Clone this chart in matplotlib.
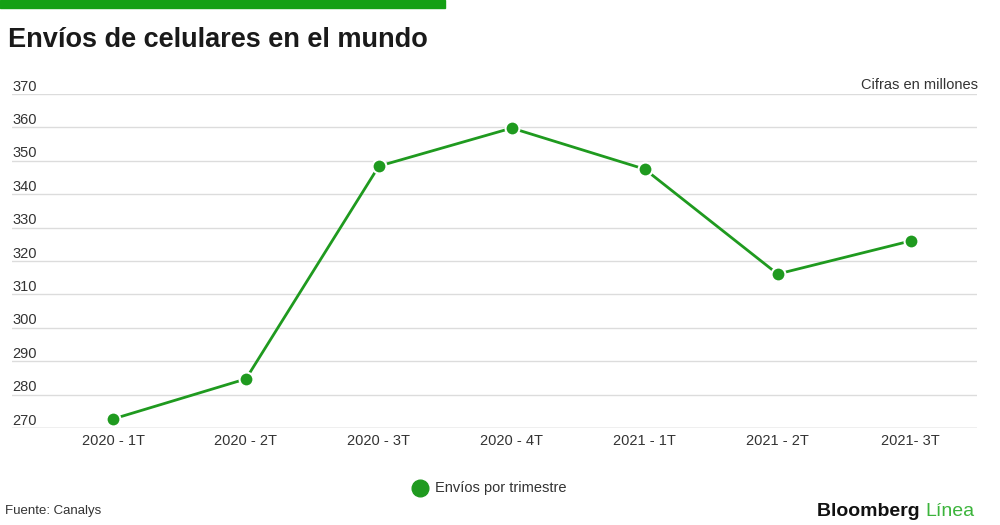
import matplotlib
matplotlib.use('Agg')
import matplotlib.pyplot as plt
from matplotlib.transforms import blended_transform_factory

trimestres = ['2020 - 1T', '2020 - 2T', '2020 - 3T', '2020 - 4T', '2021 - 1T', '2021 - 2T', '2021- 3T']
envios = [272.7, 284.7, 348.4, 359.8, 347.5, 316.1, 326.0]
yticks = [270, 280, 290, 300, 310, 320, 330, 340, 350, 360, 370]

verde = '#1f9a1f'
gris = '#333333'
plt.rcParams['font.family'] = ['Liberation Sans', 'DejaVu Sans']

fig = plt.figure(figsize=(10, 5.25), dpi=100)
ax = fig.add_axes([0.012, 1 - 428 / 525, 0.965, (428 - 94) / 525])

x = list(range(len(trimestres)))
ax.plot(x, envios, color=verde, lw=2, zorder=3)
ax.plot(x, envios, 'o', color=verde, ms=10, mec='white', mew=1.5, zorder=4)

ax.set_xlim(-0.76, 6.5)
ax.set_ylim(270, 370)
for v in yticks:
    ax.axhline(v, color='#dcdcdc', lw=1, zorder=1)
ax.axhline(270, color='#cfcfcf', lw=1, zorder=1)

tr = blended_transform_factory(ax.transAxes, ax.transData)
for v in yticks:
    ax.text(0, v + 0.1, str(v), transform=tr, ha='left', va='bottom', fontsize=10.5, color=gris)

ax.set_xticks(x)
ax.set_xticklabels(trimestres, fontsize=10.5, color=gris)
ax.tick_params(axis='x', length=0, pad=4)
ax.set_yticks([])
for s in ax.spines.values():
    s.set_visible(False)

# barra verde superior
fig.patches.append(plt.Rectangle((0, 1 - 8 / 525), 0.445, 8 / 525, transform=fig.transFigure,
                                 color='#14a014', zorder=0))

fig.text(0.008, 1 - 40 / 525, 'Envíos de celulares en el mundo', fontsize=19.5, fontweight='bold',
         color='#1a1a1a', va='center', ha='left')
fig.text(0.978, 1 - 85 / 525, 'Cifras en millones', fontsize=10.5, color=gris, ha='right', va='center')

# leyenda
fig.lines.append(plt.Line2D([420 / 1000], [1 - 488 / 525], marker='o', ms=12, color=verde,
                            transform=fig.transFigure))
fig.text(0.435, 1 - 488 / 525, 'Envíos por trimestre', fontsize=10.5, color=gris, va='center', ha='left')

fig.text(0.005, 1 - 511 / 525, 'Fuente: Canalys', fontsize=9.5, color=gris, va='center', ha='left')
t1 = fig.text(0.817, 1 - 511 / 525, 'Bloomberg ', fontsize=14, fontweight='bold', color='#111111',
              va='center', ha='left')
fig.canvas.draw()
bb = t1.get_window_extent()
fig.text(bb.x1 / 1000, 1 - 511 / 525, 'Línea', fontsize=14, color='#3cb43c', va='center', ha='left')

fig.savefig('out.png', dpi=100)
